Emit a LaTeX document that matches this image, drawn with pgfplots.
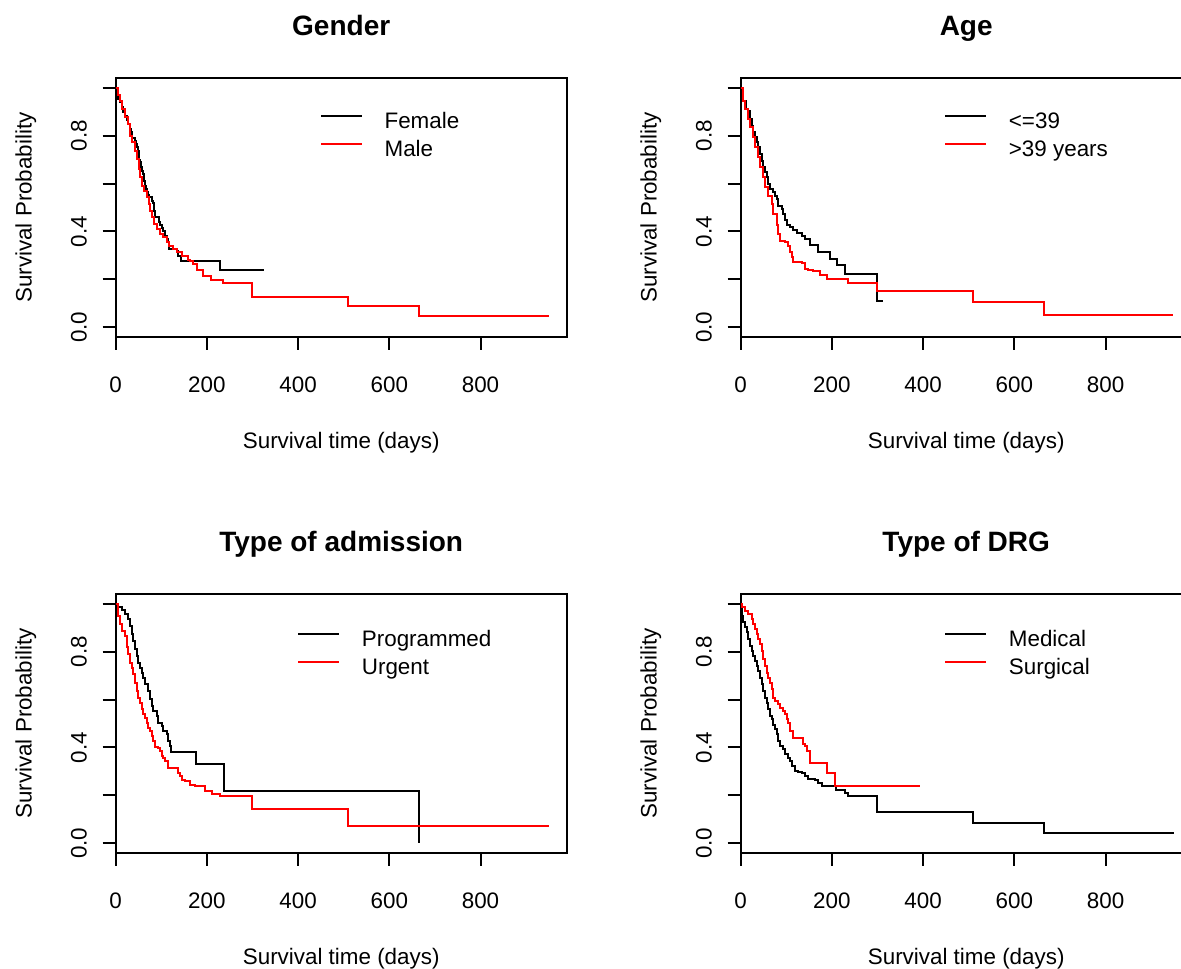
\documentclass[border=0pt]{standalone}
\usepackage{fontspec}
\setmainfont{Liberation Sans}
\usepackage{pgfplots}
\pgfplotsset{compat=1.18}

% one R-like survival panel; 1 px of the reference = 0.5pt
\pgfplotsset{km/.style={
  scale only axis, width=225.5pt, height=129.25pt,
  xmin=0, xmax=989, ymin=-0.04, ymax=1.04,
  axis line style={line width=1pt},
  tick pos=left, tick align=outside, major tick length=6.5pt,
  tick style={black, line width=1pt},
  xtick={0,200,400,600,800}, xticklabels={0,200,400,600,800},
  ytick={0,0.2,0.4,0.6,0.8,1.0}, yticklabels={0.0,,0.4,,0.8,},
  tick label style={font=\fontsize{11.2}{13}\selectfont, inner sep=0pt},
  xticklabel style={anchor=base, yshift=-21.5pt},
  yticklabel style={rotate=90, anchor=base, yshift=8pt},
  xlabel={Survival time (days)}, ylabel={Survival Probability},
  label style={font=\fontsize{11.2}{13}\selectfont, inner sep=0pt},
  xlabel style={at={(axis description cs:0.5,0)}, anchor=base, yshift=-56pt},
  ylabel style={at={(axis description cs:0,0.5)}, anchor=base, yshift=42pt},
  title style={font=\fontsize{14}{16}\selectfont\bfseries, inner sep=0pt,
    at={(axis description cs:0.5,1)}, anchor=base, yshift=15.5pt},
  legend cell align=left,
  legend style={draw=none, fill=none, inner sep=0pt, outer sep=0pt,
    at={(axis description cs:0,1)}, anchor=north west,
    font=\fontsize{11.2}{13}\selectfont, column sep=10.8pt, row sep=3pt,
    nodes={inner sep=0pt, text height=8.5pt, text depth=2.5pt}},
  legend image code/.code={\draw[##1, line width=1pt] (0pt,3.3pt) -- (20.5pt,3.3pt);},
  every axis plot/.append style={const plot, line width=1pt},
}}

\begin{document}
\begin{tikzpicture}
\useasboundingbox (0,0) rectangle (590.5pt,484pt);

% Gender
\begin{axis}[km, at={(57.85pt,444.85pt)}, anchor=north west, title={Gender},
  legend style={xshift=102.15pt, yshift=-16.5pt}]
\addplot[black] coordinates {
(0,1)(3,0.975)(6,0.954)(9,0.94)(13,0.919)(17,0.9)(20,0.884)(24,0.866)(28,0.849)
(31,0.83)(33,0.815)(36,0.79)(42,0.78)(44,0.765)(46,0.752)(48,0.735)(50,0.717)
(52,0.70)(54,0.689)(56,0.67)(57,0.654)(59,0.64)(61,0.627)(63,0.61)(64,0.592)
(66,0.578)(68,0.564)(70,0.553)(72,0.543)(79,0.529)(81,0.518)(83,0.508)(85,0.487)
(86,0.459)(94,0.453)(96,0.44)(97,0.425)(101,0.415)(104,0.404)(108,0.383)(112,0.369)
(115,0.355)(117,0.327)(135,0.320)(137,0.299)(143,0.278)(229,0.241)(326,0.241)};
\addlegendentry{Female}
\addplot[red] coordinates {
(0,1)(4,0.97)(9.5,0.947)(13,0.912)(20,0.877)(28,0.849)(31,0.80)(36,0.773)(42,0.738)
(46,0.703)(50,0.661)(53,0.627)(57,0.592)(61,0.571)(68,0.543)(72,0.515)(75,0.487)
(79,0.459)(83,0.432)(90,0.411)(97,0.390)(104,0.376)(112,0.355)(117,0.341)(126,0.327)
(135,0.313)(145,0.299)(159,0.281)(163,0.276)(170,0.265)(178,0.239)(192,0.212)
(210,0.198)(236,0.184)(298,0.125)(510,0.088)(664,0.045)(951,0.045)};
\addlegendentry{Male}
\end{axis}

% Age
\begin{axis}[km, at={(370.35pt,444.85pt)}, anchor=north west, title={Age},
  legend style={xshift=101.8pt, yshift=-16.5pt}]
\addplot[black] coordinates {
(0,1)(5.8,0.947)(11,0.912)(16.8,0.905)(20.5,0.87)(24,0.842)(28,0.815)(31.4,0.794)
(35,0.773)(38.7,0.752)(42.4,0.724)(46,0.696)(49.7,0.668)(53.4,0.647)(57,0.627)
(60.7,0.599)(64.3,0.578)(71.6,0.564)(75.3,0.55)(79,0.536)(82.6,0.508)(90,0.494)
(93.6,0.473)(97.2,0.446)(101,0.429)(108,0.418)(115.5,0.407)(123,0.393)(134,0.383)
(141,0.369)(152,0.345)(170,0.313)(196,0.285)(210.5,0.258)(229,0.223)(298,0.111)(313,0.111)};
\addlegendentry{<=39}
\addplot[red] coordinates {
(0,1)(5.8,0.947)(9.5,0.912)(16.8,0.870)(20.5,0.835)(27.8,0.794)(31.4,0.752)(38.7,0.710)
(42.4,0.668)(49.7,0.627)(53.4,0.585)(60.7,0.550)(68,0.515)(71.6,0.473)(79,0.425)
(82.6,0.390)(86.3,0.362)(97.2,0.355)(104.5,0.341)(108.2,0.313)(111.8,0.292)(115.5,0.272)
(133.8,0.267)(141,0.244)(148.4,0.237)(159.4,0.234)(174,0.220)(188.6,0.202)(236,0.184)
(298,0.153)(509,0.104)(664,0.052)(949,0.052)};
\addlegendentry{>39 years}
\end{axis}

% Type of admission
\begin{axis}[km, at={(57.85pt,186.85pt)}, anchor=north west, title={Type of admission},
  legend style={xshift=90.8pt, yshift=-17.7pt}]
\addplot[black] coordinates {
(0,1)(5.8,0.986)(13.2,0.975)(20.5,0.958)(27.8,0.937)(31.4,0.909)(35.1,0.874)(38.7,0.846)
(42.4,0.811)(46,0.783)(49.7,0.755)(53.4,0.734)(57,0.713)(60.7,0.692)(64.3,0.664)
(71.6,0.636)(75.3,0.601)(79,0.573)(82.6,0.552)(90,0.531)(93.6,0.503)(100.9,0.490)
(104.5,0.469)(111.8,0.455)(115.5,0.427)(119.2,0.406)(120.6,0.382)(175.4,0.329)
(237.6,0.217)(665,0)};
\addlegendentry{Programmed}
\addplot[red] coordinates {
(0,1)(5.8,0.951)(9.5,0.916)(13.2,0.888)(20.5,0.867)(24.1,0.818)(27.8,0.790)(31.4,0.755)
(35.1,0.734)(38.7,0.706)(42.4,0.671)(46,0.636)(49.7,0.608)(53.4,0.587)(57,0.559)
(60.7,0.538)(64.3,0.524)(68,0.503)(71.6,0.483)(75.3,0.469)(79,0.448)(82.6,0.427)
(86.3,0.403)(93.6,0.399)(97.2,0.385)(100.9,0.364)(104.5,0.357)(108.2,0.343)(115.5,0.315)
(137.4,0.294)(141.1,0.280)(144.7,0.266)(152,0.259)(163,0.245)(174,0.238)(195.9,0.217)
(210.5,0.206)(228.8,0.196)(298.2,0.144)(510,0.070)(950,0.070)};
\addlegendentry{Urgent}
\end{axis}

% Type of DRG
\begin{axis}[km, at={(370.35pt,186.85pt)}, anchor=north west, title={Type of DRG},
  legend style={xshift=101.8pt, yshift=-17.7pt}]
\addplot[black] coordinates {
(0,1)(2.2,0.951)(5.8,0.923)(9.5,0.902)(13.2,0.881)(16.8,0.853)(20.5,0.825)(24.1,0.804)
(27.8,0.783)(31.4,0.762)(35.1,0.741)(38.7,0.720)(42.4,0.692)(46,0.664)(49.7,0.636)
(53.4,0.608)(57,0.587)(60.7,0.559)(64.3,0.531)(68,0.517)(71.6,0.496)(75.3,0.476)
(79,0.455)(82.6,0.427)(86.3,0.406)(93.6,0.392)(97.2,0.371)(104.5,0.357)(108.2,0.343)
(111.8,0.322)(119.2,0.303)(126.5,0.298)(133.8,0.294)(141.1,0.280)(148.4,0.270)
(163,0.266)(170.3,0.252)(177.6,0.241)(195.9,0.238)(210,0.224)(228.8,0.210)(236,0.196)
(298.2,0.129)(510,0.084)(665,0.043)(950,0.043)};
\addlegendentry{Medical}
\addplot[red] coordinates {
(0,1)(2.2,0.986)(9.5,0.972)(16.8,0.958)(24.1,0.937)(27.8,0.916)(31.4,0.895)(35.1,0.874)
(38.7,0.853)(42.4,0.832)(46,0.804)(49.7,0.769)(53.4,0.741)(57,0.713)(60.7,0.692)
(64.3,0.671)(68,0.643)(71.6,0.608)(75.3,0.594)(82.6,0.580)(86.3,0.566)(93.6,0.552)
(97.2,0.538)(100.9,0.517)(104.5,0.503)(108.2,0.469)(115.5,0.441)(137.4,0.413)
(141.1,0.406)(144.7,0.385)(152,0.336)(188.6,0.294)(206.9,0.241)(393,0.241)};
\addlegendentry{Surgical}
\end{axis}
\end{tikzpicture}
\end{document}
